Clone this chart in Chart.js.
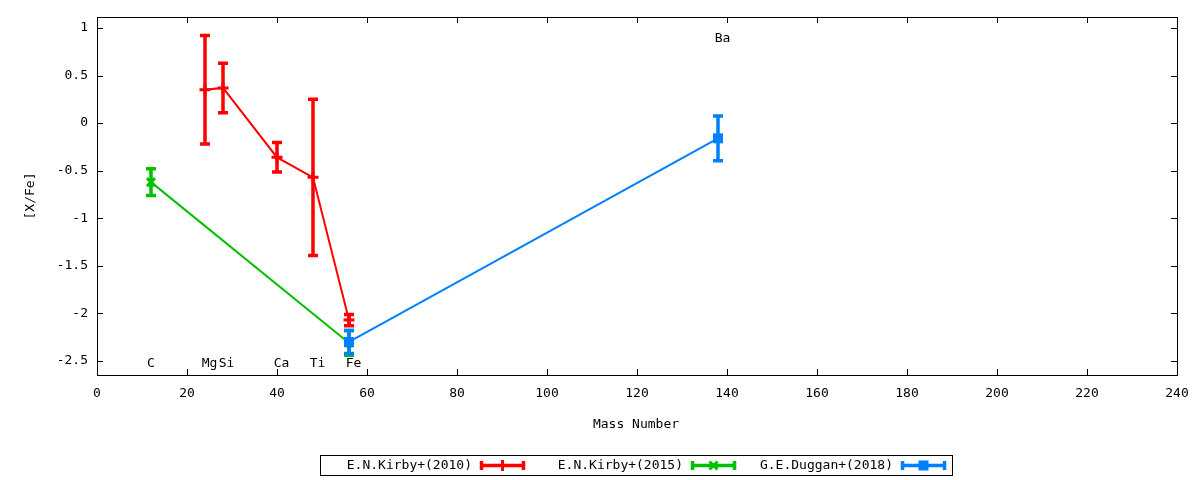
<!DOCTYPE html>
<html>
<head>
<meta charset="utf-8">
<script src="https://cdn.jsdelivr.net/npm/chart.js@4"></script>
<style>
html,body{margin:0;padding:0;background:#fff;}
#wrap{width:1200px;height:480px;}
</style>
</head>
<body>
<div id="wrap"><canvas id="c" width="1200" height="480"></canvas></div>
<script>
// ---- data ----
const kirby2010Mass = [24, 28, 40, 48, 56];
const kirby2010Val  = [0.35, 0.37, -0.36, -0.57, -2.07];
const kirby2010Err  = [0.57, 0.26, 0.155, 0.82, 0.06];

const kirby2015Mass = [12, 56];
const kirby2015Val  = [-0.62, -2.31];
const kirby2015Err  = [0.14, 0.13];

const duggan2018Mass = [56, 138];
const duggan2018Val  = [-2.30, -0.16];
const duggan2018Err  = [0.12, 0.235];

const seriesNames = ['E.N.Kirby+(2010)', 'E.N.Kirby+(2015)', 'G.E.Duggan+(2018)'];

const elementNames = ['C', 'Mg', 'Si', 'Ca', 'Ti', 'Fe', 'Ba'];
const elementLabelX = [12, 25, 28.8, 41, 49, 57, 139];
const elementLabelY = [-2.53, -2.53, -2.53, -2.53, -2.53, -2.53, 0.89];

const xTicks = [0, 20, 40, 60, 80, 100, 120, 140, 160, 180, 200, 220, 240];
const yTicks = [-2.5, -2, -1.5, -1, -0.5, 0, 0.5, 1];

const FONT = '"DejaVu Sans Mono", monospace';
const colors = ['#ff0000', '#00c000', '#0080ff'];
const markers = ['plus', 'cross', 'square'];

function toPts(xs, ys){ return xs.map((x,i)=>({x:x, y:ys[i]})); }

const errs = [kirby2010Err, kirby2015Err, duggan2018Err];

function drawMarker(ctx, type, x, y, color){
  ctx.save();
  ctx.strokeStyle = color; ctx.fillStyle = color; ctx.lineWidth = 3;
  if (type === 'plus'){
    ctx.beginPath(); ctx.moveTo(x-5.5,y); ctx.lineTo(x+5.5,y);
    ctx.moveTo(x,y-5.5); ctx.lineTo(x,y+5.5); ctx.stroke();
  } else if (type === 'cross'){
    ctx.lineWidth = 3;
    ctx.beginPath(); ctx.moveTo(x-4,y-4); ctx.lineTo(x+4,y+4);
    ctx.moveTo(x+4,y-4); ctx.lineTo(x-4,y+4); ctx.stroke();
  } else {
    ctx.fillRect(x-5, y-5, 10, 10);
  }
  ctx.restore();
}

const errPlugin = {
  id: 'errbars',
  afterDatasetDraw(chart, args){
    const ctx = chart.ctx;
    const ds = chart.data.datasets[args.index];
    const xs = chart.scales.x, ys = chart.scales.y;
    const e = errs[args.index];
    const col = colors[args.index];
    ctx.save();
    ctx.strokeStyle = col; ctx.lineWidth = 3.5; ctx.lineCap = 'butt';
    ds.data.forEach((p,i)=>{
      const px = xs.getPixelForValue(p.x);
      const y1 = ys.getPixelForValue(p.y + e[i]);
      const y2 = ys.getPixelForValue(p.y - e[i]);
      ctx.beginPath();
      ctx.moveTo(px, y1); ctx.lineTo(px, y2);
      ctx.moveTo(px-5, y1); ctx.lineTo(px+5, y1);
      ctx.moveTo(px-5, y2); ctx.lineTo(px+5, y2);
      ctx.stroke();
      drawMarker(ctx, markers[args.index], px, ys.getPixelForValue(p.y), col);
    });
    ctx.restore();
  }
};

const framePlugin = {
  id: 'frame',
  afterDraw(chart){
    const ctx = chart.ctx;
    const a = chart.chartArea;
    const xs = chart.scales.x, ys = chart.scales.y;
    ctx.save();
    ctx.strokeStyle = '#000'; ctx.lineWidth = 1;
    ctx.strokeRect(Math.round(a.left)+0.5, Math.round(a.top)+0.5, Math.round(a.right-a.left), Math.round(a.bottom-a.top));
    ctx.beginPath();
    xTicks.forEach(v=>{
      const px = Math.round(xs.getPixelForValue(v))+0.5;
      ctx.moveTo(px, a.bottom); ctx.lineTo(px, a.bottom-6);
      ctx.moveTo(px, a.top); ctx.lineTo(px, a.top+6);
    });
    yTicks.forEach(v=>{
      const py = Math.round(ys.getPixelForValue(v))+0.5;
      ctx.moveTo(a.left, py); ctx.lineTo(a.left+6, py);
      ctx.moveTo(a.right, py); ctx.lineTo(a.right-6, py);
    });
    ctx.stroke();

    // element labels
    ctx.fillStyle = '#000';
    ctx.font = '13px ' + FONT;
    ctx.textAlign = 'center'; ctx.textBaseline = 'middle';
    elementNames.forEach((n,i)=>{
      ctx.fillText(n, xs.getPixelForValue(elementLabelX[i]), ys.getPixelForValue(elementLabelY[i]));
    });

    // axis titles
    ctx.fillText('Mass Number', (a.left+a.right)/2 - 1, 425);
    ctx.save();
    ctx.translate(31, (a.top+a.bottom)/2);
    ctx.rotate(-Math.PI/2);
    ctx.fillText('[X/Fe]', 0, 0);
    ctx.restore();

    // legend
    ctx.strokeRect(320.5, 455.5, 632, 20);
    const textRight = [472, 683, 893];
    ctx.textAlign = 'right';
    seriesNames.forEach((n,i)=>{
      ctx.fillStyle = '#000';
      ctx.fillText(n, textRight[i], 465.5);
      const sx1 = textRight[i] + 8, sx2 = textRight[i] + 53, sy = 465.5;
      ctx.strokeStyle = colors[i]; ctx.lineWidth = 3.5;
      ctx.beginPath();
      ctx.moveTo(sx1, sy); ctx.lineTo(sx2, sy);
      ctx.moveTo(sx1+1.5, sy-4.5); ctx.lineTo(sx1+1.5, sy+4.5);
      ctx.moveTo(sx2-1.5, sy-4.5); ctx.lineTo(sx2-1.5, sy+4.5);
      ctx.stroke();
      drawMarker(ctx, markers[i], (sx1+sx2)/2, sy, colors[i]);
      ctx.strokeStyle = '#000'; ctx.lineWidth = 1;
    });
    ctx.restore();
  }
};

const datasets = [
  {label: seriesNames[0], data: toPts(kirby2010Mass, kirby2010Val), borderColor: colors[0]},
  {label: seriesNames[1], data: toPts(kirby2015Mass, kirby2015Val), borderColor: colors[1]},
  {label: seriesNames[2], data: toPts(duggan2018Mass, duggan2018Val), borderColor: colors[2]}
].map(d => Object.assign(d, {borderWidth: 2, pointRadius: 0, fill: false, tension: 0}));

datasets.forEach((d,i)=>{ d.order = 3 - i; });

new Chart(document.getElementById('c'), {
  type: 'line',
  data: { datasets },
  plugins: [errPlugin, framePlugin],
  options: {
    responsive: false,
    animation: false,
    devicePixelRatio: 1,
    layout: { padding: { left: 0, right: 23, top: 17, bottom: 0 } },
    plugins: { legend: { display: false }, tooltip: { enabled: false } },
    scales: {
      x: {
        type: 'linear', min: 0, max: 240,
        afterBuildTicks: s => { s.ticks = xTicks.map(v=>({value:v})); },
        afterFit: s => { s.height = 105; },
        grid: { display: false, drawTicks: false },
        border: { display: false },
        ticks: { color: '#000', font: { family: FONT, size: 13 }, padding: 11, maxRotation: 0, autoSkip: false }
      },
      y: {
        type: 'linear', min: -2.647, max: 1.115,
        afterBuildTicks: s => { s.ticks = yTicks.map(v=>({value:v})); },
        afterFit: s => { s.width = 97; },
        grid: { display: false, drawTicks: false },
        border: { display: false },
        ticks: { color: '#000', font: { family: FONT, size: 13 }, padding: 9, autoSkip: false,
                 callback: v => String(v) }
      }
    }
  }
});
</script>
</body>
</html>
